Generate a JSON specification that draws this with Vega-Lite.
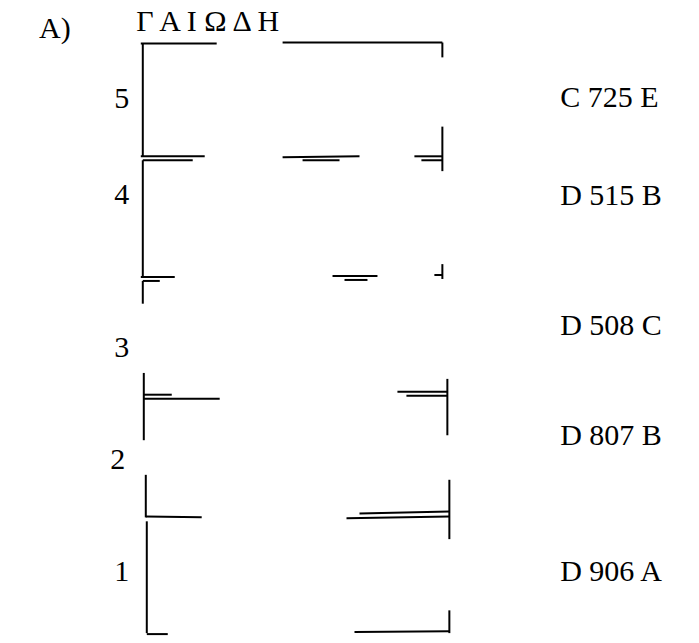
{
  "$schema": "https://vega.github.io/schema/vega-lite/v6.json",
  "width": 699,
  "height": 643,
  "autosize": {"type": "fit", "contains": "padding"},
  "padding": 0,
  "background": "white",
  "config": {"view": {"stroke": null}},
  "datasets": {
    "segs": [
      {"x": 141, "y": 44, "x2": 217, "y2": 44},
      {"x": 283, "y": 43, "x2": 443, "y2": 43},
      {"x": 143, "y": 44, "x2": 143, "y2": 158},
      {"x": 443, "y": 43, "x2": 443, "y2": 58},
      {"x": 443, "y": 128, "x2": 443, "y2": 173},
      {"x": 141, "y": 158, "x2": 205, "y2": 158},
      {"x": 143, "y": 162, "x2": 193, "y2": 162},
      {"x": 283, "y": 159, "x2": 360, "y2": 158},
      {"x": 303, "y": 162, "x2": 340, "y2": 162},
      {"x": 415, "y": 158, "x2": 443, "y2": 158},
      {"x": 422, "y": 162, "x2": 443, "y2": 162},
      {"x": 143, "y": 162, "x2": 143, "y2": 280},
      {"x": 141, "y": 280, "x2": 175, "y2": 280},
      {"x": 143, "y": 284, "x2": 160, "y2": 284},
      {"x": 143, "y": 284, "x2": 143, "y2": 307},
      {"x": 333, "y": 279, "x2": 378, "y2": 279},
      {"x": 345, "y": 283, "x2": 368, "y2": 283},
      {"x": 443, "y": 267, "x2": 443, "y2": 282},
      {"x": 435, "y": 278, "x2": 443, "y2": 278},
      {"x": 144, "y": 377, "x2": 144, "y2": 445},
      {"x": 144, "y": 399, "x2": 172, "y2": 399},
      {"x": 144, "y": 403, "x2": 220, "y2": 403},
      {"x": 448, "y": 383, "x2": 448, "y2": 440},
      {"x": 398, "y": 396, "x2": 448, "y2": 396},
      {"x": 407, "y": 400, "x2": 448, "y2": 400},
      {"x": 146, "y": 480, "x2": 146, "y2": 523},
      {"x": 146, "y": 522, "x2": 202, "y2": 523},
      {"x": 147, "y": 527, "x2": 147, "y2": 640},
      {"x": 450, "y": 485, "x2": 450, "y2": 545},
      {"x": 347, "y": 524, "x2": 450, "y2": 522},
      {"x": 360, "y": 519, "x2": 450, "y2": 517},
      {"x": 147, "y": 641, "x2": 168, "y2": 641},
      {"x": 450, "y": 617, "x2": 450, "y2": 640},
      {"x": 355, "y": 639, "x2": 450, "y2": 638}
    ],
    "left": [
      {"x": 122, "y": 100, "t": "5"},
      {"x": 122, "y": 197, "t": "4"},
      {"x": 122, "y": 352, "t": "3"},
      {"x": 118, "y": 465, "t": "2"},
      {"x": 122, "y": 578, "t": "1"}
    ],
    "right": [
      {"x": 561, "y": 99, "t": "C 725 E"},
      {"x": 561, "y": 198, "t": "D 515 B"},
      {"x": 561, "y": 330, "t": "D 508 C"},
      {"x": 561, "y": 441, "t": "D 807 B"},
      {"x": 561, "y": 578, "t": "D 906 A"}
    ],
    "title": [
      {"x": 55, "y": 29, "t": "A)"},
      {"x": 208, "y": 22, "t": "Γ Α Ι Ω Δ Η"}
    ]
  },
  "layer": [
    {
      "data": {"name": "segs"},
      "mark": {"type": "rule", "color": "black", "strokeWidth": 2},
      "encoding": {
        "x": {"field": "x", "type": "quantitative", "scale": {"domain": [0, 699]}, "axis": null},
        "y": {"field": "y", "type": "quantitative", "scale": {"domain": [643, 0]}, "axis": null},
        "x2": {"field": "x2"},
        "y2": {"field": "y2"}
      }
    },
    {
      "data": {"name": "left"},
      "mark": {"type": "text", "font": "Liberation Serif", "fontSize": 30, "align": "center", "baseline": "middle", "color": "black"},
      "encoding": {
        "x": {"field": "x", "type": "quantitative"},
        "y": {"field": "y", "type": "quantitative"},
        "text": {"field": "t"}
      }
    },
    {
      "data": {"name": "right"},
      "mark": {"type": "text", "font": "Liberation Serif", "fontSize": 30, "align": "left", "baseline": "middle", "color": "black"},
      "encoding": {
        "x": {"field": "x", "type": "quantitative"},
        "y": {"field": "y", "type": "quantitative"},
        "text": {"field": "t"}
      }
    },
    {
      "data": {"name": "title"},
      "mark": {"type": "text", "font": "Liberation Serif", "fontSize": 30, "align": "center", "baseline": "middle", "color": "black"},
      "encoding": {
        "x": {"field": "x", "type": "quantitative"},
        "y": {"field": "y", "type": "quantitative"},
        "text": {"field": "t"}
      }
    }
  ],
  "resolve": {"scale": {"x": "shared", "y": "shared"}}
}
